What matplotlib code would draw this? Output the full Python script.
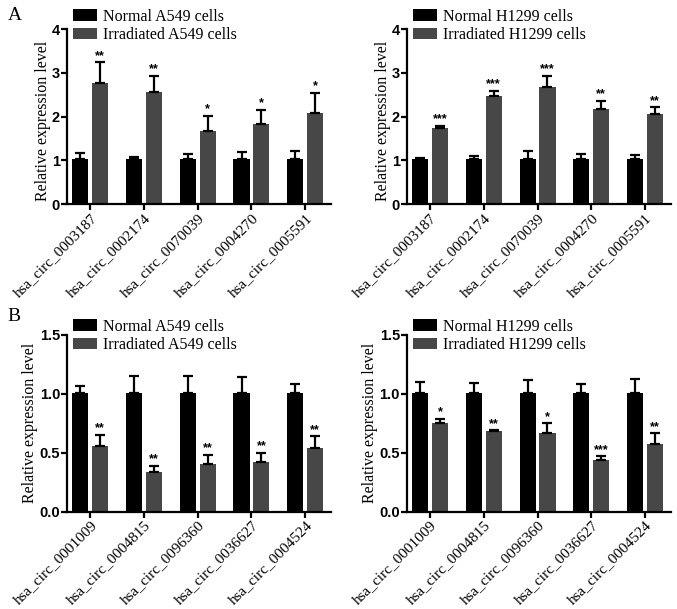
import numpy as np
import matplotlib.pyplot as plt

# circRNA names
circ_up = ['hsa_circ_0003187', 'hsa_circ_0002174', 'hsa_circ_0070039',
           'hsa_circ_0004270', 'hsa_circ_0005591']
circ_down = ['hsa_circ_0001009', 'hsa_circ_0004815', 'hsa_circ_0096360',
             'hsa_circ_0036627', 'hsa_circ_0004524']

# Panel A - A549
a549_up_norm = [1.02, 1.02, 1.02, 1.02, 1.02]
a549_up_norm_top = [1.16, 1.07, 1.14, 1.19, 1.21]
a549_up_irr = [2.78, 2.56, 1.67, 1.82, 2.09]
a549_up_irr_top = [3.24, 2.94, 2.01, 2.16, 2.55]
a549_up_sig = ['**', '**', '*', '*', '*']

# Panel A - H1299
h1299_up_norm = [1.02, 1.02, 1.02, 1.02, 1.02]
h1299_up_norm_top = [1.05, 1.10, 1.21, 1.15, 1.12]
h1299_up_irr = [1.73, 2.47, 2.68, 2.18, 2.06]
h1299_up_irr_top = [1.79, 2.59, 2.93, 2.36, 2.21]
h1299_up_sig = ['***', '***', '***', '**', '**']

# Panel B - A549
a549_dn_norm = [1.01, 1.01, 1.01, 1.01, 1.01]
a549_dn_norm_top = [1.07, 1.15, 1.15, 1.14, 1.08]
a549_dn_irr = [0.56, 0.34, 0.40, 0.42, 0.54]
a549_dn_irr_top = [0.65, 0.39, 0.48, 0.50, 0.64]
a549_dn_sig = ['**', '**', '**', '**', '**']

# Panel B - H1299
h1299_dn_norm = [1.01, 1.01, 1.01, 1.01, 1.01]
h1299_dn_norm_top = [1.10, 1.09, 1.12, 1.08, 1.13]
h1299_dn_irr = [0.75, 0.68, 0.67, 0.44, 0.57]
h1299_dn_irr_top = [0.79, 0.69, 0.75, 0.47, 0.665]
h1299_dn_sig = ['*', '**', '*', '***', '**']

SERIF = 'Liberation Serif'
SANS = 'Liberation Sans'
GRAY = '#474747'


def draw_panel(ax, names, norm, norm_top, irr, irr_top, sig, line, ymax,
               yticks, yfmt, ylab_xy, leg_y):
    x = np.arange(len(names))
    w = 0.3
    off = 0.185
    norm = np.array(norm); irr = np.array(irr)
    ekw = dict(elinewidth=1.6, capthick=1.6, ecolor='black')
    ax.bar(x - off, norm, w, color='black', label='Normal %s cells' % line,
           yerr=[np.zeros(5), np.array(norm_top) - norm], capsize=3.3, error_kw=ekw)
    ax.bar(x + off, irr, w, color=GRAY, label='Irradiated %s cells' % line,
           yerr=[np.zeros(5), np.array(irr_top) - irr], capsize=3.3, error_kw=ekw)
    for xi, t, s in zip(x, irr_top, sig):
        ax.text(xi + off, t + ymax * 0.003, s, ha='center', va='bottom',
                fontsize=9, fontweight='bold', family=SANS)
    ax.set_xlim(-0.43, 4.48)
    ax.set_ylim(0, ymax)
    ax.set_yticks(yticks)
    ax.set_yticklabels([yfmt % v for v in yticks], fontsize=10.5,
                       fontweight='bold', family=SANS)
    ax.set_xticks(x)
    ax.set_xticklabels(names, rotation=45, ha='right', rotation_mode='anchor',
                       fontsize=11, family=SERIF)
    ax.set_ylabel('Relative expression level', fontsize=11.5, family=SERIF)
    ax.yaxis.set_label_coords(*ylab_xy)
    for s in ['top', 'right']:
        ax.spines[s].set_visible(False)
    for s in ['left', 'bottom']:
        ax.spines[s].set_linewidth(1.6)
    ax.tick_params(width=1.6, length=4, direction='out', pad=1)
    ax.legend(loc='upper left', bbox_to_anchor=(0.023, leg_y), frameon=False,
              prop={'family': SERIF, 'size': 11.5}, handlelength=1.5,
              handleheight=0.75, labelspacing=0.15, borderaxespad=0,
              borderpad=0, handletextpad=0.4)


fig = plt.figure(figsize=(6.77, 6.09), dpi=100)
ax1 = fig.add_axes([0.099, 0.665, 0.390, 0.287])
ax2 = fig.add_axes([0.601, 0.665, 0.390, 0.287])
ax3 = fig.add_axes([0.099, 0.160, 0.390, 0.290])
ax4 = fig.add_axes([0.601, 0.160, 0.390, 0.290])

draw_panel(ax1, circ_up, a549_up_norm, a549_up_norm_top, a549_up_irr,
           a549_up_irr_top, a549_up_sig, 'A549', 4, [0, 1, 2, 3, 4], '%d',
           (-0.062, 0.475), 1.117)
draw_panel(ax2, circ_up, h1299_up_norm, h1299_up_norm_top, h1299_up_irr,
           h1299_up_irr_top, h1299_up_sig, 'H1299', 4, [0, 1, 2, 3, 4], '%d',
           (-0.062, 0.475), 1.117)
draw_panel(ax3, circ_down, a549_dn_norm, a549_dn_norm_top, a549_dn_irr,
           a549_dn_irr_top, a549_dn_sig, 'A549', 1.5, [0, 0.5, 1.0, 1.5], '%.1f',
           (-0.110, 0.5), 1.092)
draw_panel(ax4, circ_down, h1299_dn_norm, h1299_dn_norm_top, h1299_dn_irr,
           h1299_dn_irr_top, h1299_dn_sig, 'H1299', 1.5, [0, 0.5, 1.0, 1.5], '%.1f',
           (-0.110, 0.5), 1.092)

fig.text(0.011, 0.975, 'A', fontsize=14, family=SERIF, va='center')
fig.text(0.011, 0.481, 'B', fontsize=14, family=SERIF, va='center')

fig.savefig('out.png', dpi=100)
